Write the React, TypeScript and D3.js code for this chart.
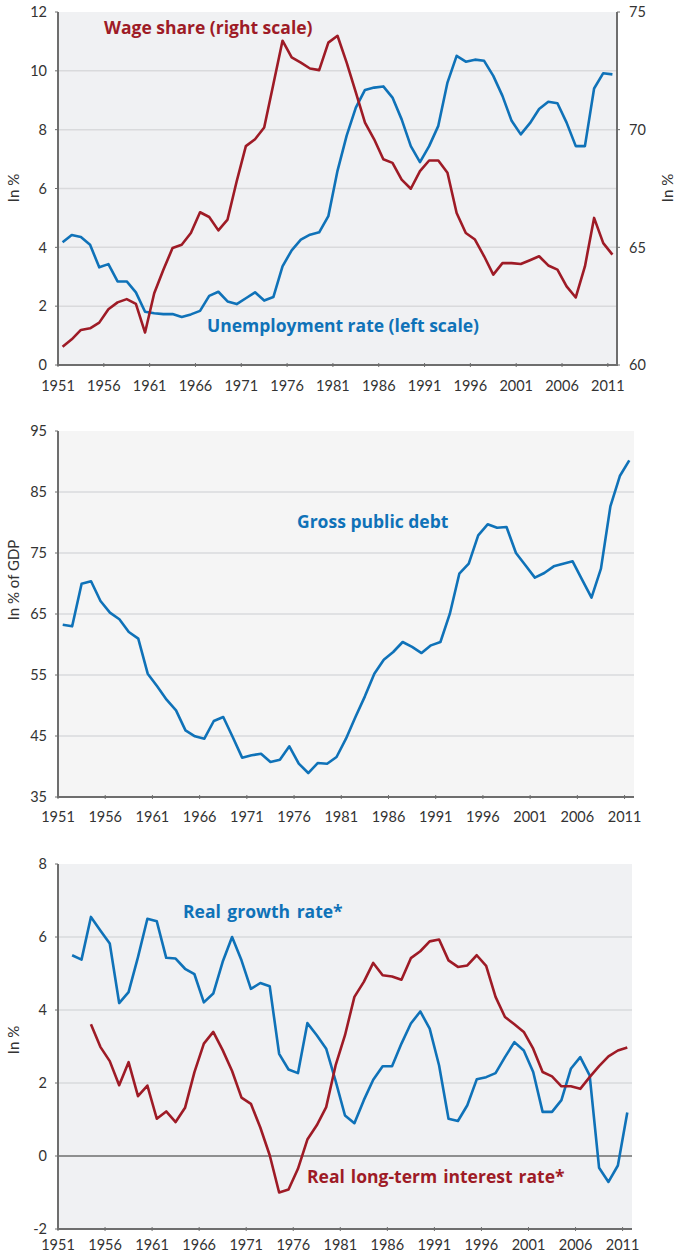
import React from "react";
import * as d3 from "d3";

const years: number[] = d3.range(1951, 2012);
const tickYears: number[] = [1951, 1956, 1961, 1966, 1971, 1976, 1981, 1986, 1991, 1996, 2001, 2006, 2011];

// Top panel
const unemployment: number[] = [
  4.17, 4.42, 4.35, 4.09, 3.32, 3.43, 2.84, 2.84, 2.47, 1.81,
  1.76, 1.73, 1.73, 1.63, 1.72, 1.84, 2.35, 2.49, 2.16, 2.07,
  2.27, 2.47, 2.19, 2.31, 3.35, 3.9, 4.26, 4.43, 4.51, 5.06,
  6.6, 7.8, 8.75, 9.35, 9.43, 9.47, 9.09, 8.35, 7.44, 6.9,
  7.44, 8.13, 9.6, 10.51, 10.31, 10.38, 10.34, 9.83, 9.15, 8.3,
  7.84, 8.22, 8.7, 8.95, 8.9, 8.24, 7.44, 7.44, 9.4, 9.92,
  9.88,
];
const wageShare: number[] = [
  60.78, 61.09, 61.49, 61.56, 61.8, 62.37, 62.66, 62.8, 62.6, 61.38,
  63.05, 64.05, 64.97, 65.11, 65.61, 66.49, 66.29, 65.72, 66.18, 67.81,
  69.3, 69.59, 70.09, 71.93, 73.78, 73.07, 72.85, 72.6, 72.53, 73.7,
  73.99, 72.85, 71.58, 70.3, 69.59, 68.74, 68.59, 67.88, 67.49, 68.24,
  68.69, 68.69, 68.17, 66.46, 65.61, 65.33, 64.62, 63.84, 64.33, 64.33,
  64.29, 64.45, 64.62, 64.23, 64.05, 63.34, 62.87, 64.19, 66.25, 65.18,
  64.69,
];
const leftTicksTop: number[] = [0, 2, 4, 6, 8, 10, 12];
const rightTicksTop: number[] = [60, 65, 70, 75];

// Middle panel
const publicDebt: number[] = [
  63.25, 62.98, 69.97, 70.36, 67.13, 65.22, 64.13, 62.05, 60.96, 55.22,
  53.14, 50.96, 49.2, 45.93, 44.95, 44.56, 47.46, 48.11, 44.84, 41.45,
  41.83, 42.1, 40.74, 41.12, 43.3, 40.46, 38.93, 40.57, 40.46, 41.56,
  44.56, 48.11, 51.5, 55.22, 57.51, 58.77, 60.41, 59.6, 58.6, 59.86,
  60.41, 65.05, 71.61, 73.25, 77.9, 79.7, 79.15, 79.26, 75.0, 72.98,
  70.96, 71.72, 72.81, 73.25, 73.63, 70.63, 67.68, 72.43, 82.65, 87.62,
  90.19,
];
const debtTicks: number[] = [35, 45, 55, 65, 75, 85, 95];

// Bottom panel
const growthRate: (number | null)[] = [
  null, 5.5, 5.38, 6.55, 6.18, 5.82, 4.19, 4.49, 5.45, 6.5,
  6.43, 5.43, 5.41, 5.13, 4.98, 4.21, 4.45, 5.32, 6.0, 5.36,
  4.58, 4.74, 4.65, 2.8, 2.37, 2.27, 3.64, 3.31, 2.94, 2.06,
  1.11, 0.9, 1.53, 2.09, 2.46, 2.46, 3.08, 3.63, 3.96, 3.49,
  2.48, 1.02, 0.96, 1.39, 2.1, 2.16, 2.27, 2.71, 3.12, 2.89,
  2.3, 1.21, 1.21, 1.53, 2.39, 2.71, 2.21, -0.32, -0.71, -0.26,
  1.19,
];
const interestRate: (number | null)[] = [
  null, null, null, 3.61, 2.99, 2.6, 1.94, 2.57, 1.64, 1.93,
  1.02, 1.22, 0.93, 1.32, 2.3, 3.08, 3.4, 2.9, 2.33, 1.6,
  1.43, 0.78, 0.02, -1.0, -0.92, -0.35, 0.45, 0.84, 1.34, 2.48,
  3.31, 4.36, 4.77, 5.29, 4.95, 4.92, 4.83, 5.42, 5.61, 5.88,
  5.93, 5.36, 5.18, 5.22, 5.5, 5.21, 4.36, 3.81, 3.61, 3.4,
  2.94, 2.3, 2.18, 1.91, 1.91, 1.84, 2.16, 2.46, 2.73, 2.89,
  2.97,
];
const rateTicks: number[] = [-2, 0, 2, 4, 6, 8];

const BLUE = "#0f72b8";
const RED = "#9e1b26";
const AXIS = "#6e6e6e";
const GRID = "#d9dadc";
const TEXT = "#333333";
const FONT = "Lato, 'Open Sans', sans-serif";
const TITLE_FONT = "'Open Sans', Lato, sans-serif";

type Series = { values: (number | null)[]; color: string; scale: "left" | "right" };

function Panel(props: {
  x0: number; x1: number; yTop: number; yBot: number;
  bg: string;
  leftDomain: [number, number]; leftTicks: number[]; gridTicks: number[];
  rightDomain?: [number, number]; rightTicks?: number[];
  series: Series[];
  xLabelOffset: number;
  yTitle: string; yTitleCenter: number;
  rightTitle?: string;
  zeroLine?: boolean;
  children?: React.ReactNode;
}) {
  const { x0, x1, yTop, yBot } = props;
  const x = d3.scaleBand<number>().domain(years).range([x0, x1]).paddingInner(0).paddingOuter(0);
  const yL = d3.scaleLinear().domain(props.leftDomain).range([yBot, yTop]);
  const yR = props.rightDomain ? d3.scaleLinear().domain(props.rightDomain).range([yBot, yTop]) : null;
  const bw = x.bandwidth();

  return (
    <g>
      <rect x={x0} y={yTop} width={x1 - x0} height={yBot - yTop} fill={props.bg} />
      {props.gridTicks.map((t) => (
        <line key={"g" + t} x1={x0} x2={x1} y1={yL(t)} y2={yL(t)} stroke={GRID} strokeWidth={1.5} />
      ))}
      {props.zeroLine && (
        <line x1={x0} x2={x1} y1={yL(0)} y2={yL(0)} stroke={AXIS} strokeWidth={1.6} />
      )}
      {props.series.map((s, i) => {
        const ys = s.scale === "left" ? yL : (yR as d3.ScaleLinear<number, number>);
        const line = d3
          .line<number>()
          .defined((_, j) => s.values[j] != null)
          .x((_, j) => (x(years[j]) as number) + bw / 2)
          .y((_, j) => ys(s.values[j] as number));
        return (
          <path key={"s" + i} d={line(years) || ""} fill="none" stroke={s.color} strokeWidth={2.6} strokeLinejoin="round" />
        );
      })}
      <line x1={x0} x2={x0} y1={yTop} y2={yBot + 1} stroke={AXIS} strokeWidth={2} />
      <line x1={x0 - 1} x2={x1 + (yR ? 1 : 0)} y1={yBot} y2={yBot} stroke={AXIS} strokeWidth={2} />
      {yR && <line x1={x1} x2={x1} y1={yTop} y2={yBot + 1} stroke={AXIS} strokeWidth={2} />}
      {tickYears.map((yr) => {
        const tx = x(yr) as number;
        return (
          <g key={"xt" + yr}>
            <line x1={tx} x2={tx} y1={yBot - 2} y2={yBot + 2} stroke={AXIS} strokeWidth={1} />
            <text x={tx} y={yBot + props.xLabelOffset} textAnchor="middle" fontSize={14.5} fill={TEXT} fontFamily={FONT}>
              {yr}
            </text>
          </g>
        );
      })}
      {props.leftTicks.map((t) => (
        <g key={"lt" + t}>
          <line x1={x0 - 3} x2={x0} y1={yL(t)} y2={yL(t)} stroke={AXIS} strokeWidth={1} />
          <text x={x0 - 11} y={yL(t)} dy="0.36em" textAnchor="end" fontSize={14.5} fill={TEXT} fontFamily={FONT}>
            {t}
          </text>
        </g>
      ))}
      {yR && props.rightTicks &&
        props.rightTicks.map((t) => (
          <g key={"rt" + t}>
            <line x1={x1} x2={x1 + 3} y1={yR(t)} y2={yR(t)} stroke={AXIS} strokeWidth={1} />
            <text x={x1 + 12} y={yR(t)} dy="0.36em" textAnchor="start" fontSize={14.5} fill={TEXT} fontFamily={FONT}>
              {t}
            </text>
          </g>
        ))}
      <text
        transform={`translate(19,${props.yTitleCenter}) rotate(-90)`}
        textAnchor="middle" fontSize={15} fill={TEXT} fontFamily={FONT}
      >
        {props.yTitle}
      </text>
      {props.rightTitle && (
        <text
          transform={`translate(673,${props.yTitleCenter}) rotate(-90)`}
          textAnchor="middle" fontSize={15} fill={TEXT} fontFamily={FONT}
        >
          {props.rightTitle}
        </text>
      )}
      {props.children}
    </g>
  );
}

export default function App() {
  const labelStyle = { fontFamily: TITLE_FONT, fontWeight: 700, fontSize: 17.5 } as const;
  return (
    <svg width={676} height={1255} style={{ position: "absolute", left: 0, top: 0, background: "#fff" }}>
      <Panel
        x0={58} x1={617} yTop={12} yBot={365} bg="#f0f1f3"
        leftDomain={[0, 12]} leftTicks={leftTicksTop} gridTicks={[2, 4, 6, 8, 10]}
        rightDomain={[60, 75]} rightTicks={rightTicksTop}
        series={[
          { values: unemployment, color: BLUE, scale: "left" },
          { values: wageShare, color: RED, scale: "right" },
        ]}
        xLabelOffset={26} yTitle="In %" yTitleCenter={188} rightTitle="In %"
      >
        <text x={104} y={34} fill={RED} {...labelStyle}>Wage share (right scale)</text>
        <text x={207} y={332} fill={BLUE} {...labelStyle}>Unemployment rate (left scale)</text>
      </Panel>
      <Panel
        x0={58} x1={634} yTop={431} yBot={797} bg="#f5f5f5"
        leftDomain={[35, 95]} leftTicks={debtTicks} gridTicks={[45, 55, 65, 75, 85]}
        series={[{ values: publicDebt, color: BLUE, scale: "left" }]}
        xLabelOffset={25} yTitle="In % of GDP" yTitleCenter={580}
      >
        <text x={297} y={528} fill={BLUE} {...labelStyle}>Gross public debt</text>
      </Panel>
      <Panel
        x0={58} x1={632} yTop={864} yBot={1229} bg="#f0f1f3"
        leftDomain={[-2, 8]} leftTicks={rateTicks} gridTicks={[2, 4, 6]}
        series={[
          { values: growthRate, color: BLUE, scale: "left" },
          { values: interestRate, color: RED, scale: "left" },
        ]}
        xLabelOffset={21} yTitle="In %" yTitleCenter={1040} zeroLine
      >
        <text x={183} y={918} fill={BLUE} wordSpacing={2} {...labelStyle}>Real growth rate*</text>
        <text x={307} y={1183} fill={RED} wordSpacing={1.5} {...labelStyle}>Real long-term interest rate*</text>
      </Panel>
    </svg>
  );
}
